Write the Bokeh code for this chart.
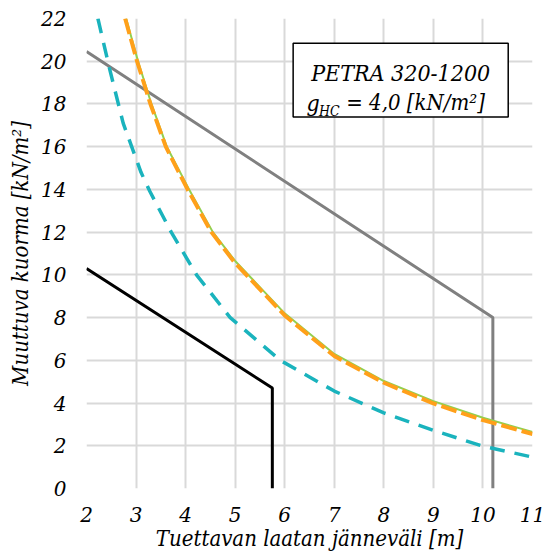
from bokeh.plotting import figure
from bokeh.models import Range1d, FixedTicker, Label, BoxAnnotation
from bokeh.embed import file_html
from bokeh.resources import INLINE

# ---- data ----
x_ticks = [2, 3, 4, 5, 6, 7, 8, 9, 10, 11]
y_ticks = [0, 2, 4, 6, 8, 10, 12, 14, 16, 18, 20, 22]

gray_x = [2.0, 10.2, 10.2]
gray_y = [20.45, 8.0, 0.0]

black_x = [2.0, 5.75, 5.75]
black_y = [10.3, 4.7, 0.0]

teal_x = [2.23, 2.26, 2.46, 2.74, 3.1, 3.28, 3.71, 4.22, 4.9, 5.91, 7.0, 8.0, 9.0, 10.0, 11.0]
teal_y = [22.0, 21.7, 19.7, 17.1, 14.8, 13.9, 12.0, 10.0, 8.0, 6.0, 4.56, 3.54, 2.72, 1.98, 1.47]

green_x = [2.80, 3.04, 3.31, 3.62, 4.07, 4.55, 5.0, 6.0, 7.0, 8.0, 9.0, 10.0, 11.0]
green_y = [22.0, 20.0, 18.0, 16.0, 14.0, 12.0, 10.65, 8.2, 6.3, 5.03, 4.09, 3.31, 2.65]

orange_x = [2.78, 3.02, 3.29, 3.60, 4.04, 4.52, 5.0, 6.0, 7.0, 8.0, 9.0, 10.0, 11.0]
orange_y = [22.0, 20.0, 18.0, 16.0, 14.0, 12.0, 10.55, 8.1, 6.2, 4.95, 3.98, 3.2, 2.55]

FONT = "DejaVu Serif"
FONT_C = "DejaVu Serif Condensed"

p = figure(frame_width=446, frame_height=470,
           x_range=Range1d(2, 11), y_range=Range1d(0, 22),
           output_backend="svg", toolbar_location=None,
           min_border_left=86, min_border_right=13, min_border_top=18, min_border_bottom=58)
p.outline_line_color = None
p.background_fill_color = "white"

p.xaxis.ticker = FixedTicker(ticks=x_ticks)
p.yaxis.ticker = FixedTicker(ticks=y_ticks)
for ax in (p.xaxis, p.yaxis):
    ax.axis_line_color = None
    ax.major_tick_line_color = None
    ax.minor_tick_line_color = None
    ax.major_label_text_font = FONT
    ax.major_label_text_font_style = "italic"
    ax.major_label_text_font_size = "20px"
    ax.major_label_text_color = "black"
    ax.axis_label_text_font = FONT_C
    ax.axis_label_text_font_style = "italic"
    ax.axis_label_text_font_size = "22px"
    ax.axis_label_text_color = "black"
p.xaxis.major_label_standoff = 12
p.yaxis.major_label_standoff = 14
p.xaxis.axis_label = "Tuettavan laatan jänneväli [m]"
p.yaxis.axis_label = "Muuttuva kuorma [kN/m²]"
p.xaxis.axis_label_standoff = 1
p.yaxis.axis_label_standoff = 5

p.grid.grid_line_color = "#d9d9d9"
p.grid.grid_line_width = 2

p.line(gray_x, gray_y, line_color="#808080", line_width=3)
p.line(black_x, black_y, line_color="black", line_width=3)
p.line(teal_x, teal_y, line_color="#1ab3bd", line_width=3.5, line_dash="15 10")
p.line(green_x, green_y, line_color="#92d050", line_width=2)
p.line(orange_x, orange_y, line_color="#ffa01a", line_width=4, line_dash="16 5")

# text box
box = BoxAnnotation(left=6.17, right=10.51, bottom=17.39, top=20.84,
                    fill_color="white", fill_alpha=1.0,
                    line_color="black", line_alpha=1.0, line_width=1.5)
p.add_layout(box)

common = dict(text_font=FONT_C, text_font_style="italic", text_color="black",
              text_baseline="alphabetic")
p.add_layout(Label(x=8.34, y=19.47, text="PETRA 320-1200", text_align="center",
                   text_font_size="23px", **common))
p.add_layout(Label(x=6.44, y=18.06, text="g", text_align="left",
                   text_font_size="23px", **common))
p.add_layout(Label(x=6.69, y=17.66, text="HC", text_align="left",
                   text_font_size="14px", **common))
p.add_layout(Label(x=7.24, y=18.06, text="= 4,0 [kN/m²]", text_align="left",
                   text_font_size="22px", **common))

open("out.html", "w").write(file_html(p, INLINE))
